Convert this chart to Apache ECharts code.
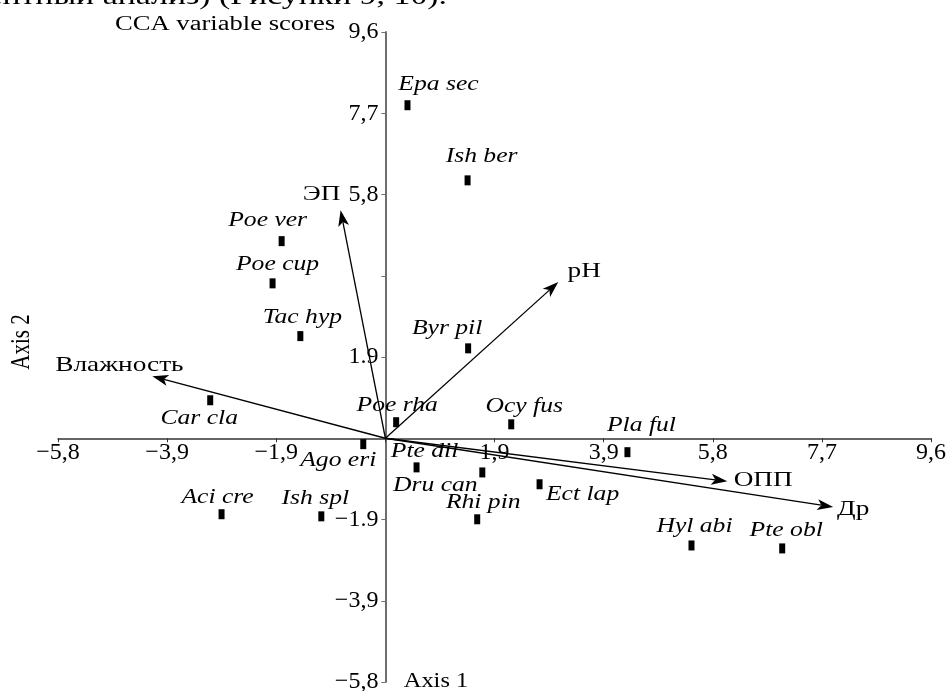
<!DOCTYPE html>
<html><head><meta charset="utf-8">
<script src="https://cdn.jsdelivr.net/npm/echarts@6/dist/echarts.min.js"></script>
<style>html,body{margin:0;padding:0;background:#fff}#c{width:949px;height:691px}</style>
</head><body><div id="c"></div>
<script>
// ---- data ----
const tickStep = 1.925;
const xTickLabels = ['\u22125,8','\u22123,9','\u22121,9','','1,9','3,9','5,8','7,7','9,6'];
const yTickLabels = ['\u22125,8','\u22123,9','\u22121.9','','1.9','','5,8','7,7','9,6'];
const speciesNames = ['Epa sec','Ish ber','Poe ver','Poe cup','Tac hyp','Byr pil','Car cla','Poe rha','Ocy fus','Pla ful','Ago eri','Pte dil','Dru can','Rhi pin','Ect lap','Aci cre','Ish spl','Hyl abi','Pte obl'];
const speciesX = [0.39, 1.45, -1.83, -1.99, -1.50, 1.46, -3.09, 0.19, 2.22, 4.27, -0.39, 0.55, 1.71, 1.62, 2.72, -2.89, -1.13, 5.40, 7.00];
const speciesY = [7.89, 6.11, 4.67, 3.67, 2.42, 2.13, 0.90, 0.38, 0.33, -0.33, -0.14, -0.69, -0.81, -1.92, -1.09, -1.80, -1.85, -2.54, -2.61];
const envNames = ['\u042D\u041F','pH','\u0412\u043B\u0430\u0436\u043D\u043E\u0441\u0442\u044C','\u041E\u041F\u041F','\u0414\u0440'];
const envX = [-0.79, 3.05, -4.11, 6.03, 7.90];
const envY = [5.40, 3.70, 1.47, -1.02, -1.63];

// ---- layout (label offsets in px, relative to the mark) ----
const speciesLabelOffset = {
  'Epa sec':[31,-20],'Ish ber':[14,-24],'Poe ver':[-14,-20],'Poe cup':[5,-19],'Tac hyp':[2,-18],
  'Byr pil':[-21,-20],'Car cla':[-11,18],'Poe rha':[1,-16],'Ocy fus':[13,-18],'Pla ful':[14,-26],
  'Ago eri':[-25,17],'Pte dil':[8,-16],'Dru can':[-47,13],'Rhi pin':[6,-17],'Ect lap':[43,10],
  'Aci cre':[-4,-16],'Ish spl':[-6,-18],'Hyl abi':[3,-19],'Pte obl':[4,-18]
};
const envLabelOffset = [[-19,-16],[26,-11],[-33,-11],[36,-1],[20,2]];
const SERIF = '"Liberation Serif","Times New Roman",serif';
const STRETCH = 1.3;

const xMin = -3 * tickStep, xMax = 5 * tickStep;
const yMin = -3 * tickStep, yMax = 5 * tickStep;
function fmt(labels, min){ return function(v){ const i = Math.round((v - min) / tickStep); return labels[i] !== undefined ? labels[i] : ''; }; }

const W = 949, H = 691;
const G = {left: 58, right: 18, top: 32, bottom: 9};
const gw = W - G.left - G.right, gh = H - G.top - G.bottom;
// move the axes onto the zero lines (axis offset from grid edge)
const xAxisOffset = -(gh * (0 - yMin) / (yMax - yMin));
const yAxisOffset = -(gw * (0 - xMin) / (xMax - xMin));

const speciesData = speciesNames.map((n,i)=>[speciesX[i], speciesY[i], n]);
const envData = envNames.map((n,i)=>[envX[i], envY[i], n]);

const chart = echarts.init(document.getElementById('c'), null, {renderer:'canvas'});
chart.setOption({
  animation: false,
  backgroundColor: '#fff',
  grid: {left: G.left, right: G.right, top: G.top, bottom: G.bottom, containLabel: false, outerBoundsMode: 'none'},
  xAxis: {
    type: 'value', min: xMin, max: xMax, interval: tickStep, position: 'bottom', offset: xAxisOffset,
    axisLine: {onZero: false, lineStyle: {color: '#333', width: 1.5}},
    axisTick: {show: true, length: 4, lineStyle: {color: '#333', width: 1}},
    axisLabel: {formatter: fmt(xTickLabels, xMin), fontFamily: SERIF, fontSize: 24, color: '#000', margin: 2, showMinLabel: true, showMaxLabel: true},
    splitLine: {show: false}
  },
  yAxis: {
    type: 'value', min: yMin, max: yMax, interval: tickStep, position: 'left', offset: yAxisOffset,
    axisLine: {onZero: false, lineStyle: {color: '#6e6e6e', width: 2}},
    axisTick: {show: true, length: 4, lineStyle: {color: '#6e6e6e', width: 1}},
    axisLabel: {formatter: fmt(yTickLabels, yMin), fontFamily: SERIF, fontSize: 24, color: '#000', margin: 7, showMinLabel: true, showMaxLabel: true},
    splitLine: {show: false}
  },
  graphic: [
    {type:'text', x: 447, y: -3, scaleX: STRETCH, silent: true,
     style:{text:'\u0435\u043D\u0442\u043D\u044B\u0439 \u0430\u043D\u0430\u043B\u0438\u0437) (\u0420\u0438\u0441\u0443\u043D\u043A\u0438 9, 10).', fontFamily: SERIF, fontSize: 26, fill:'#000', textAlign:'right', align:'right', textVerticalAlign:'middle', verticalAlign:'middle'}},
    {type:'text', x: 115, y: 25, scaleX: 1.33, silent: true,
     style:{text:'CCA variable scores', fontFamily: SERIF, fontSize: 20, fill:'#000', textAlign:'left', align:'left', textVerticalAlign:'middle', verticalAlign:'middle'}},
    {type:'text', x: 22, y: 342, rotation: Math.PI/2, scaleY: 1.25, silent: true,
     style:{text:'Axis 2', fontFamily: SERIF, fontSize: 21, fill:'#000', textAlign:'center', align:'center', textVerticalAlign:'middle', verticalAlign:'middle'}},
    {type:'text', x: 436, y: 682, scaleX: 1.22, silent: true,
     style:{text:'Axis 1', fontFamily: SERIF, fontSize: 20, fill:'#000', textAlign:'center', align:'center', textVerticalAlign:'middle', verticalAlign:'middle'}}
  ],
  series: [
    {
      type: 'custom', name: 'env', clip: false, silent: true,
      encode: {x: 0, y: 1},
      data: envData,
      renderItem: function(params, api){
        const o = api.coord([0, 0]);
        const p = api.coord([api.value(0), api.value(1)]);
        const dx = p[0]-o[0], dy = p[1]-o[1], len = Math.hypot(dx, dy);
        const ux = dx/len, uy = dy/len, nx = -uy, ny = ux;
        const L = 16, HW = 5.5, N = 12;
        const back = [p[0]-ux*L, p[1]-uy*L];
        const notch = [p[0]-ux*N, p[1]-uy*N];
        const off = envLabelOffset[params.dataIndex];
        return {type:'group', children:[
          {type:'line', shape:{x1:o[0], y1:o[1], x2:notch[0], y2:notch[1]}, style:{stroke:'#000', lineWidth:1.3}},
          {type:'polygon', shape:{points:[p, [back[0]+nx*HW, back[1]+ny*HW], notch, [back[0]-nx*HW, back[1]-ny*HW]]}, style:{fill:'#000'}},
          {type:'text', x: p[0]+off[0], y: p[1]+off[1], scaleX: STRETCH,
           style:{text: envNames[params.dataIndex], fontFamily: SERIF, fontSize: 21, fill:'#000', textAlign:'center', align:'center', textVerticalAlign:'middle', verticalAlign:'middle'}}
        ]};
      }
    },
    {
      type: 'scatter', name: 'species', symbol: 'rect', symbolSize: [6, 10], silent: true,
      itemStyle: {color: '#000', opacity: 1},
      data: speciesData
    },
    {
      type: 'custom', name: 'speciesLabels', clip: false, silent: true,
      encode: {x: 0, y: 1},
      data: speciesData,
      renderItem: function(params, api){
        const p = api.coord([api.value(0), api.value(1)]);
        const n = speciesNames[params.dataIndex];
        const off = speciesLabelOffset[n];
        return {type:'text', x: p[0]+off[0], y: p[1]+off[1], scaleX: 1.28,
          style:{text: n, fontFamily: SERIF, fontStyle:'italic', fontSize: 20, fill:'#000', textAlign:'center', align:'center', textVerticalAlign:'middle', verticalAlign:'middle'}};
      }
    }
  ]
});
</script></body></html>
